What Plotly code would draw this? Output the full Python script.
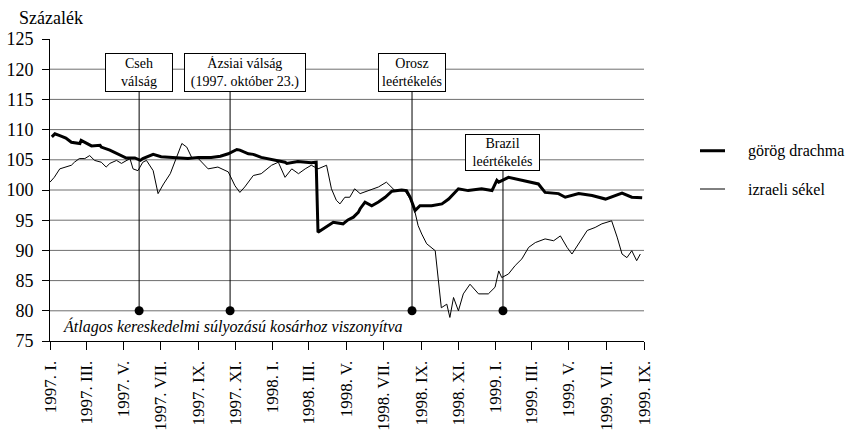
import plotly.graph_objects as go

# ---------------- data ----------------
drachma_dates = [
    "1997-01-04", "1997-01-09", "1997-01-17", "1997-01-27", "1997-02-05", "1997-02-19",
    "1997-02-21", "1997-03-10", "1997-03-24", "1997-03-26", "1997-04-09", "1997-04-22",
    "1997-05-06", "1997-05-20", "1997-05-29", "1997-06-02", "1997-06-19", "1997-07-02",
    "1997-07-24", "1997-08-15", "1997-09-01", "1997-09-22", "1997-10-07", "1997-10-20",
    "1997-11-03", "1997-11-08", "1997-11-22", "1997-11-30", "1997-12-13", "1998-01-04",
    "1998-01-21", "1998-01-24", "1998-02-11", "1998-03-05", "1998-03-13", "1998-03-16",
    "1998-04-10", "1998-04-26", "1998-05-04", "1998-05-13", "1998-05-21", "1998-05-24",
    "1998-06-01", "1998-06-12", "1998-06-23", "1998-07-04", "1998-07-15", "1998-07-31",
    "1998-08-08", "1998-08-14", "1998-08-22", "1998-08-30", "1998-09-18", "1998-10-05",
    "1998-10-16", "1998-11-01", "1998-11-17", "1998-12-09", "1998-12-26", "1999-01-03",
    "1999-01-06", "1999-01-22", "1999-02-13", "1999-03-12", "1999-03-23", "1999-04-14",
    "1999-04-25", "1999-05-17", "1999-06-08", "1999-06-30", "1999-07-27", "1999-08-12",
    "1999-08-29",
]
drachma_values = [
    108.8, 109.3, 109.0, 108.6, 107.9, 107.7,
    108.2, 107.3, 107.4, 107.1, 106.6, 106.0,
    105.3, 105.3, 104.9, 105.2, 105.9, 105.5,
    105.3, 105.2, 105.4, 105.4, 105.6, 106.0,
    106.7, 106.6, 106.0, 105.9, 105.4, 104.9,
    104.6, 104.4, 104.7, 104.5, 104.6, 93.0,
    94.65, 94.4, 95.05, 95.5, 96.3, 96.9,
    98.0, 97.4, 98.0, 98.8, 99.8, 100.0,
    99.9, 98.8, 96.6, 97.4, 97.4, 97.7,
    98.5, 100.2, 99.9, 100.2, 99.9, 101.6,
    101.3, 102.1, 101.6, 101.0, 99.6, 99.4,
    98.8, 99.4, 99.1, 98.5, 99.5, 98.8,
    98.7,
]

sekel_dates = [
    "1997-01-01", "1997-01-08", "1997-01-17", "1997-01-25", "1997-02-05", "1997-02-10",
    "1997-02-18", "1997-02-27", "1997-03-07", "1997-03-15", "1997-03-26", "1997-04-03",
    "1997-04-09", "1997-04-20", "1997-04-28", "1997-05-12", "1997-05-17", "1997-05-25",
    "1997-06-02", "1997-06-08", "1997-06-19", "1997-06-27", "1997-07-06", "1997-07-17",
    "1997-07-25",
    "1997-08-05", "1997-08-13", "1997-08-21", "1997-09-01", "1997-09-17", "1997-10-03",
    "1997-10-20", "1997-10-31", "1997-11-08", "1997-11-16", "1997-11-30", "1997-12-13",
    "1997-12-30", "1998-01-10", "1998-01-21", "1998-02-01", "1998-02-12", "1998-02-23",
    "1998-03-05", "1998-03-16", "1998-03-30", "1998-04-07", "1998-04-15", "1998-04-21",
    "1998-04-29", "1998-05-07", "1998-05-15", "1998-05-24", "1998-06-06", "1998-06-23",
    "1998-07-06", "1998-07-20", "1998-08-05", "1998-08-14", "1998-08-22", "1998-08-27",
    "1998-09-02", "1998-09-10", "1998-09-24", "1998-09-29", "1998-10-04", "1998-10-13",
    "1998-10-18", "1998-10-24", "1998-11-01", "1998-11-09", "1998-11-20", "1998-12-04",
    "1998-12-20", "1998-12-31", "1999-01-06", "1999-01-11", "1999-01-22", "1999-02-02",
    "1999-02-13", "1999-02-24", "1999-03-07", "1999-03-23", "1999-04-06", "1999-04-17",
    "1999-04-28", "1999-05-06", "1999-05-17", "1999-05-31", "1999-06-13", "1999-06-24",
    "1999-07-10", "1999-07-19", "1999-07-27", "1999-08-04", "1999-08-12", "1999-08-20",
    "1999-08-26",
]
sekel_values = [
    101.3, 102.1, 103.5, 103.8, 104.1, 104.6,
    105.2, 105.2, 105.7, 104.9, 104.6, 103.8,
    104.4, 104.9, 104.4, 105.2, 103.5, 103.2,
    104.6, 104.9, 103.2, 99.4, 101.0, 102.7,
    104.9,
    107.7, 107.1, 105.4, 105.2, 103.5, 103.8,
    103.0, 100.7, 99.6, 100.5, 102.4, 102.7,
    104.1, 104.6, 102.1, 103.5, 102.7, 103.5,
    104.1, 103.5, 104.1, 100.2, 98.3, 97.7,
    98.8, 98.8, 100.2, 99.4, 99.9, 100.5,
    101.3, 99.9, 99.9, 98.5, 96.3, 94.1,
    92.7, 91.1, 89.95, 85.0, 80.5, 81.1,
    78.9, 82.2, 80.0, 82.8, 84.4, 82.8,
    82.8, 83.9, 86.6, 85.5, 86.1, 87.5,
    88.6, 90.5, 91.3, 91.9, 91.6, 92.4,
    90.5, 89.4, 91.1, 93.3, 93.8, 94.4,
    94.9, 92.2, 89.4, 88.8, 89.95, 88.3,
    89.4,
]

series_names = ["görög drachma", "izraeli sékel"]

event_labels = ["Cseh<br>válság", "Ázsiai válság<br>(1997. október 23.)",
                "Orosz<br>leértékelés", "Brazil<br>leértékelés"]
event_dates = ["1997-05-27", "1997-10-23", "1998-08-17", "1999-01-13"]
event_box_values = [119.45, 119.45, 119.45, 106.15]
event_base_value = 80

tick_dates = ["1997-01-01", "1997-03-01", "1997-05-01", "1997-07-01", "1997-09-01",
              "1997-11-01", "1998-01-01", "1998-03-01", "1998-05-01", "1998-07-01",
              "1998-09-01", "1998-11-01", "1999-01-01", "1999-03-01", "1999-05-01",
              "1999-07-01", "1999-09-01"]
tick_labels = ["1997. I.", "1997. III.", "1997. V.", "1997. VII.", "1997. IX.",
               "1997. XI.", "1998. I.", "1998. III.", "1998. V.", "1998. VII.",
               "1998. IX.", "1998. XI.", "1999. I.", "1999. III.", "1999. V.",
               "1999. VII.", "1999. IX."]
y_ticks = [75, 80, 85, 90, 95, 100, 105, 110, 115, 120, 125]
grid_values = [80, 85, 90, 95, 100, 105, 110, 115, 120]

FONT = "Times New Roman, Liberation Serif, DejaVu Serif, serif"

fig = go.Figure()

fig.add_trace(go.Scatter(x=drachma_dates, y=drachma_values, mode="lines",
                         name=series_names[0], showlegend=False,
                         line=dict(color="black", width=3)))
fig.add_trace(go.Scatter(x=sekel_dates, y=sekel_values, mode="lines",
                         name=series_names[1], showlegend=False,
                         line=dict(color="black", width=1)))

# event dots
fig.add_trace(go.Scatter(x=event_dates, y=[event_base_value] * len(event_dates),
                         mode="markers", marker=dict(color="black", size=9),
                         showlegend=False, hoverinfo="skip"))

shapes = []
for g in grid_values:
    shapes.append(dict(type="line", xref="paper", x0=0, x1=1, yref="y", y0=g, y1=g,
                       line=dict(color="#6e6e6e", width=1), layer="below"))
for d, yb in zip(event_dates, event_box_values):
    shapes.append(dict(type="line", xref="x", x0=d, x1=d, yref="y",
                       y0=event_base_value, y1=yb,
                       line=dict(color="black", width=1), layer="above"))

# legend (drawn beside the plot)
legend_y = [0.63, 0.5033]
legend_widths = [3, 1]
for yy, lw in zip(legend_y, legend_widths):
    shapes.append(dict(type="line", xref="paper", yref="paper", x0=1.0943, x1=1.1364,
                       y0=yy, y1=yy, line=dict(color="black", width=lw)))

annotations = []
for name, yy in zip(series_names, legend_y):
    annotations.append(dict(x=1.172, y=yy, xref="paper", yref="paper", xanchor="left",
                            yanchor="middle", showarrow=False, text=name,
                            font=dict(family=FONT, size=16, color="black")))

box_widths = [62, 116, 62, 69]
box_heights = [33, 33, 33, 31]
box_shifts = [0, 15, 0, 0]
for lab, d, yb, w, h, s in zip(event_labels, event_dates, event_box_values,
                               box_widths, box_heights, box_shifts):
    annotations.append(dict(x=d, y=yb, xref="x", yref="y", text=lab, showarrow=False,
                            xshift=s, width=w, height=h, borderpad=2,
                            bordercolor="black", borderwidth=1, bgcolor="white",
                            font=dict(family=FONT, size=14, color="black")))

annotations.append(dict(x=0.018, y=77.4, xref="paper", yref="y", xanchor="left",
                        yanchor="middle", showarrow=False,
                        text="<i>Átlagos kereskedelmi súlyozású kosárhoz viszonyítva</i>",
                        font=dict(family=FONT, size=16, color="black")))
annotations.append(dict(x=0, y=1.07, xref="paper", yref="paper", xanchor="left",
                        xshift=-33, yanchor="middle", showarrow=False, text="Százalék",
                        font=dict(family=FONT, size=18, color="black")))

fig.update_layout(
    width=863, height=432,
    margin=dict(l=50, r=219, t=39, b=91, autoexpand=False),
    paper_bgcolor="white", plot_bgcolor="white",
    font=dict(family=FONT, size=16, color="black"),
    shapes=shapes, annotations=annotations,
    showlegend=False,
    xaxis=dict(type="date", range=["1997-01-01", "1999-09-01"],
               tickmode="array", tickvals=tick_dates, ticktext=tick_labels,
               tickangle=-90, ticks="outside", ticklen=8, tickcolor="black",
               ticklabelstandoff=4,
               showline=True, linecolor="black", linewidth=1, showgrid=False,
               zeroline=False, tickfont=dict(family=FONT, size=17, color="black")),
    yaxis=dict(range=[75, 125], tickmode="array", tickvals=y_ticks,
               ticks="outside", ticklen=7, tickcolor="black", ticklabelstandoff=5,
               showline=True, linecolor="black", linewidth=1, showgrid=False,
               zeroline=False, tickfont=dict(family=FONT, size=18, color="black")),
)

fig.write_html("out.html", config={"displayModeBar": False},
               post_script="document.body.style.margin='0';")
